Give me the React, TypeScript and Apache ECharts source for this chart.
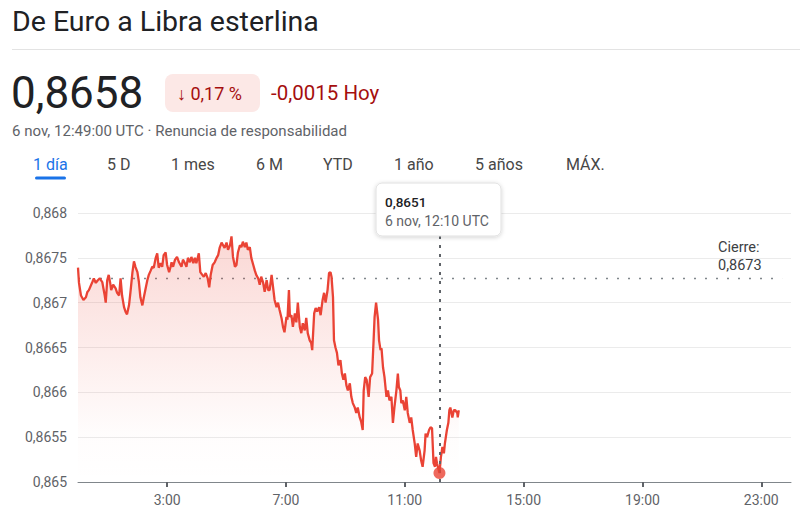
import React, { useEffect, useRef } from "react";
import * as echarts from "echarts";

// Minutes after 00:00 UTC (6 nov) and EUR→GBP rate
const minutes = [0,2,6,11,16,19,22,29,32,36,40,44,49,54,56,59,62,65,67,71,76,79,83,86,89,93,96,99,103,106,110,113,116,120,123,126,130,133,137,140,143,147,150,153,157,160,163,167,170,173,177,180,184,187,189,192,196,200,204,209,212,216,219,222,226,229,233,236,239,244,247,251,254,258,262,265,268,272,276,280,283,286,290,293,296,300,303,307,310,313,317,320,323,327,330,333,337,340,343,347,350,354,357,360,364,367,370,374,377,381,384,387,391,394,397,401,404,407,411,414,417,421,423,426,428,431,434,438,441,444,448,451,454,458,461,464,468,471,473,477,480,483,487,490,494,497,500,504,507,510,512,515,517,520,523,526,530,533,536,539,542,545,549,552,555,559,562,565,569,572,575,577,580,583,587,590,594,597,599,602,606,608,611,613,616,619,623,626,629,633,636,639,643,646,648,651,653,656,660,663,666,670,673,676,680,683,686,690,693,696,700,702,705,709,712,715,718,721,723,725,730,733,736,739,741,745,748,750,752,756,759,762,766,767,769];
const rates = [0.86739,0.86722,0.86708,0.86703,0.86706,0.86712,0.86714,0.86723,0.86727,0.86722,0.86725,0.86727,0.86723,0.86708,0.86700,0.86725,0.86731,0.86722,0.86714,0.86720,0.86716,0.86711,0.86708,0.86727,0.86708,0.86695,0.86690,0.86687,0.86697,0.86712,0.86734,0.86746,0.86740,0.86734,0.86723,0.86706,0.86697,0.86706,0.86717,0.86725,0.86731,0.86736,0.86740,0.86739,0.86750,0.86755,0.86739,0.86744,0.86740,0.86753,0.86756,0.86742,0.86734,0.86740,0.86745,0.86740,0.86748,0.86751,0.86745,0.86740,0.86748,0.86744,0.86740,0.86750,0.86745,0.86751,0.86744,0.86750,0.86744,0.86755,0.86734,0.86731,0.86729,0.86733,0.86727,0.86717,0.86731,0.86742,0.86745,0.86750,0.86753,0.86761,0.86767,0.86764,0.86761,0.86767,0.86759,0.86764,0.86774,0.86751,0.86740,0.86742,0.86756,0.86764,0.86762,0.86768,0.86762,0.86767,0.86759,0.86762,0.86750,0.86742,0.86736,0.86731,0.86727,0.86720,0.86729,0.86722,0.86712,0.86725,0.86714,0.86714,0.86731,0.86717,0.86703,0.86695,0.86700,0.86692,0.86683,0.86673,0.86667,0.86684,0.86681,0.86714,0.86684,0.86686,0.86673,0.86688,0.86678,0.86700,0.86673,0.86666,0.86677,0.86669,0.86683,0.86666,0.86658,0.86655,0.86647,0.86688,0.86694,0.86690,0.86695,0.86686,0.86703,0.86711,0.86700,0.86714,0.86733,0.86734,0.86729,0.86706,0.86658,0.86650,0.86644,0.86630,0.86636,0.86621,0.86614,0.86621,0.86608,0.86602,0.86610,0.86595,0.86588,0.86583,0.86577,0.86583,0.86572,0.86567,0.86558,0.86602,0.86617,0.86614,0.86595,0.86617,0.86621,0.86658,0.86684,0.86700,0.86681,0.86658,0.86647,0.86649,0.86628,0.86617,0.86595,0.86602,0.86591,0.86595,0.86566,0.86583,0.86602,0.86621,0.86606,0.86602,0.86588,0.86591,0.86580,0.86595,0.86577,0.86566,0.86572,0.86558,0.86543,0.86528,0.86543,0.86535,0.86524,0.86517,0.86535,0.86554,0.86550,0.86558,0.86561,0.86560,0.86521,0.86517,0.86528,0.86521,0.86510,0.86528,0.86539,0.86532,0.86543,0.86558,0.86566,0.86580,0.86583,0.86572,0.86580,0.86580,0.86577,0.86572,0.86580];

const xTickMinutes = [180, 420, 660, 900, 1140, 1380];
const xTickLabels = ["3:00", "7:00", "11:00", "15:00", "19:00", "23:00"];
const yMin = 0.865;
const yMax = 0.868;
const yStep = 0.0005;

const previousClose = 0.86727;
const closeLineEndMinute = 1422;
const hoverMinute = 730;
const hoverRate = 0.8651;

const tabs = ["1 día", "5 D", "1 mes", "6 M", "YTD", "1 año", "5 años", "MÁX."];
const tabX = [33, 107, 171, 256, 323, 394, 475, 566];

const FONT = "Roboto, 'Noto Sans', Arial, sans-serif";

function fmtComma(v: number) {
  return String(parseFloat(v.toFixed(4))).replace(".", ",");
}

export default function App() {
  const ref = useRef<HTMLDivElement>(null);
  useEffect(() => {
    if (!ref.current) return;
    const chart = echarts.init(ref.current, undefined, { renderer: "svg" });
    const lineData = minutes.map((m, i) => [m, rates[i]]);

    const graphic: any[] = [
      { type: "text", x: 12, y: 21, style: { text: "De Euro a Libra esterlina", font: `400 28.5px ${FONT}`, fill: "#202124", verticalAlign: "middle" } },
      { type: "line", shape: { x1: 12, y1: 49.5, x2: 800, y2: 49.5 }, style: { stroke: "#e3e3e3", lineWidth: 1 } },
      { type: "text", x: 11, y: 93, style: { text: "0,8658", font: `400 44px ${FONT}`, fill: "#202124", verticalAlign: "middle" } },
      { type: "rect", shape: { x: 165, y: 74, width: 95, height: 38, r: 8 }, style: { fill: "#fce8e6" } },
      { type: "text", x: 177, y: 93, style: { text: "↓ 0,17 %", font: `400 18px ${FONT}`, fill: "#a50e0e", verticalAlign: "middle" } },
      { type: "text", x: 271, y: 93, style: { text: "-0,0015 Hoy", font: `400 20.5px ${FONT}`, fill: "#a50e0e", verticalAlign: "middle" } },
      { type: "text", x: 12, y: 131, style: { text: "6 nov, 12:49:00 UTC · Renuncia de responsabilidad", font: `400 15px ${FONT}`, fill: "#5f6368", verticalAlign: "middle" } },
      ...tabs.map((t, i) => ({
        type: "text", x: tabX[i], y: 164,
        style: { text: t, font: `400 16px ${FONT}`, fill: i === 0 ? "#1a73e8" : "#474747", verticalAlign: "middle" },
      })),
      { type: "rect", shape: { x: 35, y: 176.5, width: 31, height: 3, r: 1.5 }, style: { fill: "#1a73e8" } },
      {
        type: "rect", z: 100, shape: { x: 376, y: 183, width: 125, height: 53, r: 6 },
        style: { fill: "#fff", stroke: "#e0e0e0", lineWidth: 1, shadowBlur: 4, shadowColor: "rgba(0,0,0,0.18)", shadowOffsetY: 1 },
      },
      { type: "text", z: 101, x: 385, y: 202, style: { text: fmtComma(hoverRate), font: `500 13.5px ${FONT}`, fill: "#202124", verticalAlign: "middle" } },
      { type: "text", z: 101, x: 385, y: 221, style: { text: "6 nov, 12:10 UTC", font: `400 14px ${FONT}`, fill: "#5f6368", verticalAlign: "middle" } },
      { type: "text", z: 101, x: 718, y: 247, style: { text: "Cierre:", font: `400 14.5px ${FONT}`, fill: "#3c4043", verticalAlign: "middle" } },
      { type: "text", z: 101, x: 718, y: 265, style: { text: fmtComma(previousClose), font: `400 14.5px ${FONT}`, fill: "#3c4043", verticalAlign: "middle" } },
    ];

    chart.setOption({
      animation: false,
      backgroundColor: "#ffffff",
      textStyle: { fontFamily: FONT },
      grid: { left: 78, right: 9, top: 213, bottom: 44 },
      xAxis: {
        type: "value",
        min: 0,
        max: 1440,
        axisLine: { show: true, lineStyle: { color: "#80868b", width: 1 } },
        axisTick: { show: true, customValues: xTickMinutes, length: 5, lineStyle: { color: "#5f6368", width: 2 } },
        axisLabel: {
          customValues: xTickMinutes,
          formatter: (v: number) => xTickLabels[xTickMinutes.indexOf(v)] ?? "",
          color: "#5f6368",
          fontSize: 14,
          fontFamily: FONT,
          margin: 11,
        },
        splitLine: { show: false },
      },
      yAxis: {
        type: "value",
        min: yMin,
        max: yMax,
        interval: yStep,
        axisLine: { show: false },
        axisTick: { show: false },
        axisLabel: { formatter: (v: number) => fmtComma(v), color: "#5f6368", fontSize: 14, fontFamily: FONT, margin: 11 },
        splitLine: { show: true, lineStyle: { color: "#ebebeb", width: 1 } },
      },
      series: [
        {
          type: "line",
          data: [[0, previousClose], [closeLineEndMinute, previousClose]],
          showSymbol: false,
          silent: true,
          lineStyle: { color: "#80868b", type: [2, 9], width: 1.5 },
          z: 2,
        },
        {
          type: "line",
          data: lineData,
          showSymbol: false,
          silent: true,
          lineStyle: { color: "#ea4335", width: 2.3 },
          itemStyle: { color: "#ea4335" },
          areaStyle: {
            color: new echarts.graphic.LinearGradient(0, 0, 0, 1, [
              { offset: 0, color: "rgba(234,67,53,0.3)" },
              { offset: 0.8, color: "rgba(234,67,53,0.02)" },
              { offset: 1, color: "rgba(234,67,53,0)" },
            ]),
          },
          markLine: {
            silent: true,
            symbol: "none",
            label: { show: false },
            data: [
              { xAxis: hoverMinute, lineStyle: { color: "#5f6368", type: [3, 6], width: 2 } },
            ],
          },
          z: 3,
        },
        {
          type: "scatter",
          data: [[hoverMinute, hoverRate]],
          symbolSize: 12,
          itemStyle: { color: "#ea4335" },
          silent: true,
          z: 5,
        },
      ],
      graphic,
    });
    return () => chart.dispose();
  }, []);

  return (
    <div
      ref={ref}
      style={{ position: "fixed", left: 0, top: 0, width: 800, height: 526, background: "#fff" }}
    />
  );
}
